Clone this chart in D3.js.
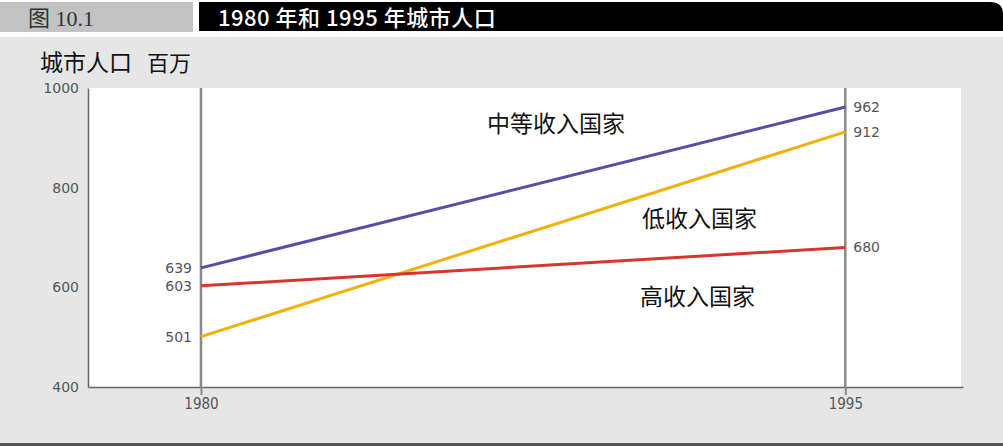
<!DOCTYPE html>
<html>
<head>
<meta charset="utf-8">
<script src="https://cdn.jsdelivr.net/npm/d3@7"></script>
<style>
  body { margin: 0; background: #fff; }
  svg { display: block; }
</style>
</head>
<body>
<svg></svg>
<script>
const years = [1980, 1995];
const seriesNames = ['中等收入国家', '低收入国家', '高收入国家'];
const middleIncome = [639, 962];
const lowIncome = [501, 912];
const highIncome = [603, 680];
const yTicks = [400, 600, 800, 1000];

const width = 1003;
const height = 448;

const svg = d3.select('svg')
    .attr('width', width)
    .attr('height', height)

// header
svg.append('rect').attr('x', 0).attr('y', 2).attr('width', 193).attr('height', 30).attr('fill', '#c2c2c2')
svg.append('path')
    .attr('d', 'M199,2 H990 Q1003,2 1003,14 V31 H199 Z')
    .attr('fill', '#000')
svg.append('text')
    .attr('x', 28).attr('y', 26)
    .style('font-family', '"Liberation Serif", "Noto Sans CJK SC", serif')
    .style('font-size', '22px')
    .style('fill', '#333')
    .text('图 10.1')
svg.append('text')
    .attr('x', 218).attr('y', 26)
    .style('font-family', '"Noto Sans CJK SC", sans-serif')
    .style('font-size', '22px')
    .style('font-weight', '500')
    .style('fill', '#fff')
    .style('letter-spacing', '0.5px')
    .text('1980 年和 1995 年城市人口')

// panel
svg.append('rect').attr('x', 0).attr('y', 37).attr('width', width).attr('height', 406).attr('fill', '#e6e6e6')
svg.append('rect').attr('x', 0).attr('y', 443).attr('width', width).attr('height', 3).attr('fill', '#555')

const plotLeft = 88, plotRight = 963, plotTop = 88, plotBottom = 387;

const xScale = d3.scaleLinear()
    .domain([1977.37, 1997.74])
    .range([plotLeft, plotRight])

const yScale = d3.scaleLinear()
    .domain([400, 1000])
    .range([plotBottom, plotTop])

svg.append('rect')
    .attr('x', plotLeft).attr('y', plotTop)
    .attr('width', plotRight - plotLeft - 2).attr('height', plotBottom - plotTop)
    .attr('fill', '#fff')

// y axis title
svg.append('text')
    .attr('x', 40).attr('y', 71)
    .style('font-family', '"Noto Sans CJK SC", sans-serif')
    .style('font-size', '23px')
    .style('fill', '#111')
    .text('城市人口')
svg.append('text')
    .attr('x', 147).attr('y', 71)
    .style('font-family', '"Noto Sans CJK SC", sans-serif')
    .style('font-size', '22px')
    .style('fill', '#111')
    .text('百万')

// y axis
const yAxis = d3.axisLeft(yScale)
    .tickValues(yTicks)
    .tickFormat(d3.format('d'))
    .tickSize(0)
    .tickPadding(9)

const gy = svg.append('g')
    .attr('transform', 'translate(' + plotLeft + ', 0)')
    .call(yAxis)
gy.select('.domain').attr('stroke', '#666').attr('stroke-width', 1.5)
gy.selectAll('text')
    .style('font-family', '"DejaVu Sans", sans-serif')
    .style('font-size', '14px')
    .style('fill', '#555')

// x axis
const xAxis = d3.axisBottom(xScale)
    .tickValues(years)
    .tickFormat(d3.format('d'))
    .tickSize(8)
    .tickPadding(3)
    .tickSizeOuter(0)

const gx = svg.append('g')
    .attr('transform', 'translate(0, ' + plotBottom + ')')
    .call(xAxis)
gx.select('.domain').attr('stroke', '#666').attr('stroke-width', 1.5)
gx.selectAll('line').attr('stroke', '#888').attr('stroke-width', 2)
gx.selectAll('text')
    .style('font-family', '"DejaVu Sans Condensed", "DejaVu Sans", sans-serif')
    .style('font-size', '15px')
    .style('fill', '#555')

// vertical year lines
svg.selectAll('.yearline')
    .data(years)
    .enter()
    .append('line')
    .attr('class', 'yearline')
    .attr('x1', d => xScale(d))
    .attr('x2', d => xScale(d))
    .attr('y1', plotTop)
    .attr('y2', plotBottom)
    .attr('stroke', '#8a8a8a')
    .attr('stroke-width', 2.5)

const series = [
    { name: seriesNames[0], values: middleIncome, color: '#5a4aa6', lx: 487, ly: 132 },
    { name: seriesNames[1], values: lowIncome, color: '#f0b10a', lx: 642, ly: 227 },
    { name: seriesNames[2], values: highIncome, color: '#d8352c', lx: 640, ly: 305 }
]

const line = d3.line()
    .x((d, i) => xScale(years[i]))
    .y(d => yScale(d))

svg.selectAll('.series')
    .data(series)
    .enter()
    .append('path')
    .attr('class', 'series')
    .attr('d', d => line(d.values))
    .attr('fill', 'none')
    .attr('stroke', d => d.color)
    .attr('stroke-width', 3)

// value labels
const valueLabels = svg.append('g')
series.forEach(s => {
    valueLabels.append('text')
        .attr('x', xScale(years[0]) - 9)
        .attr('y', yScale(s.values[0]))
        .attr('dy', '.35em')
        .style('text-anchor', 'end')
        .style('font-family', '"DejaVu Sans", sans-serif')
        .style('font-size', '14px')
        .style('fill', '#555')
        .text(s.values[0])
    valueLabels.append('text')
        .attr('x', xScale(years[1]) + 8)
        .attr('y', yScale(s.values[1]))
        .attr('dy', '.35em')
        .style('font-family', '"DejaVu Sans", sans-serif')
        .style('font-size', '14px')
        .style('fill', '#555')
        .text(s.values[1])
})

svg.selectAll('.seriesname')
    .data(series)
    .enter()
    .append('text')
    .attr('class', 'seriesname')
    .attr('x', d => d.lx)
    .attr('y', d => d.ly)
    .style('font-family', '"Noto Sans CJK SC", sans-serif')
    .style('font-size', '23px')
    .style('fill', '#111')
    .text(d => d.name)
</script>
</body>
</html>
